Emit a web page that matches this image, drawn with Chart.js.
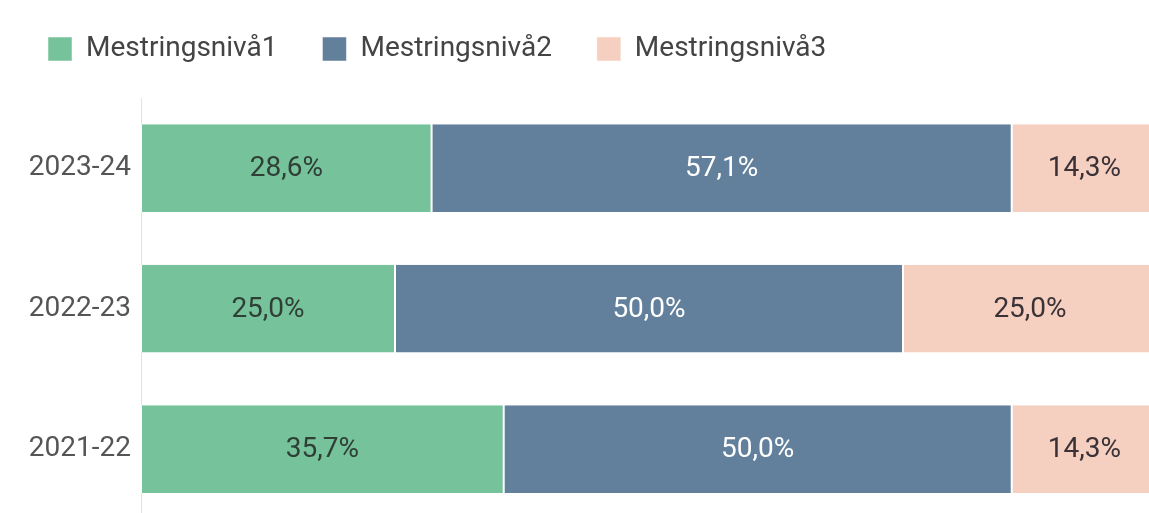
<!DOCTYPE html>
<html>
<head>
<meta charset="utf-8">
<script src="https://cdn.jsdelivr.net/npm/chart.js@4"></script>
<style>
  html, body { margin: 0; padding: 0; background: #fff; overflow: hidden; }
  canvas { display: block; }
</style>
</head>
<body>
<canvas id="chart" width="1157" height="546"></canvas>
<script>
const years = ['2023-24', '2022-23', '2021-22'];
const level1 = [28.6, 25.0, 35.7];
const level2 = [57.1, 50.0, 50.0];
const level3 = [14.3, 25.0, 14.3];
const seriesNames = ['Mestringsnivå1', 'Mestringsnivå2', 'Mestringsnivå3'];
const colors = ['#76c29b', '#62809c', '#f5cfc0'];
const labelColors = ['#2f3f36', '#ffffff', '#3a3236'];

const FONT = 'Roboto, "Noto Sans", sans-serif';

// draws the value in the middle of every bar segment
const segmentLabels = {
  id: 'segmentLabels',
  afterDatasetsDraw(chart) {
    const ctx = chart.ctx;
    ctx.save();
    ctx.font = '28px ' + FONT;
    ctx.textAlign = 'center';
    ctx.textBaseline = 'middle';
    chart.data.datasets.forEach((ds, i) => {
      chart.getDatasetMeta(i).data.forEach((bar, j) => {
        const left = Math.min(bar.x, bar.base);
        const right = Math.max(bar.x, bar.base);
        ctx.fillStyle = labelColors[i];
        ctx.fillText(ds.data[j].toFixed(1).replace('.', ',') + '%', (left + right) / 2, bar.y + 1);
      });
    });
    ctx.restore();
  }
};

new Chart(document.getElementById('chart'), {
  type: 'bar',
  data: {
    labels: years,
    datasets: [level1, level2, level3].map((d, i) => ({
      label: seriesNames[i],
      data: d,
      backgroundColor: colors[i],
      borderColor: '#ffffff',
      borderWidth: { left: 1, right: 1 },
      borderSkipped: false,
      categoryPercentage: 1,
      barPercentage: 0.625
    }))
  },
  options: {
    indexAxis: 'y',
    responsive: false,
    animation: false,
    layout: { padding: { left: 3, right: 0, top: -10, bottom: 2 } },
    plugins: {
      legend: {
        position: 'top',
        align: 'start',
        labels: {
          boxWidth: 24,
          boxHeight: 24,
          padding: 45,
          color: '#444',
          font: { family: FONT, size: 28 }
        }
      },
      tooltip: { enabled: false }
    },
    scales: {
      x: {
        stacked: true, min: 0, max: 100,
        position: 'top',
        grid: { display: false, drawTicks: false },
        border: { display: false },
        ticks: { display: false },
        afterFit(scale) { scale.height = 25; }
      },
      y: {
        stacked: true,
        grid: { display: false, drawTicks: false },
        border: { display: true, color: '#e2e2e2', width: 1 },
        ticks: { color: '#555', padding: 10, font: { family: FONT, size: 28 } },
        afterFit(scale) { scale.width = 138; }
      }
    }
  },
  plugins: [segmentLabels]
});
</script>
</body>
</html>
